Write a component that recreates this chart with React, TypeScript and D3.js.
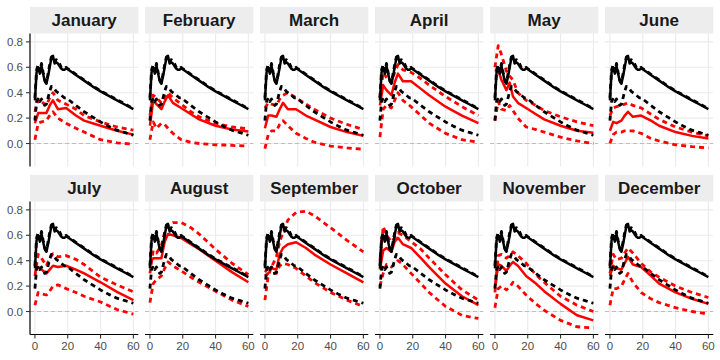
import * as d3 from "d3";
import { useEffect, useRef } from "react";

// facet labels
const months = [
  "January", "February", "March", "April", "May", "June",
  "July", "August", "September", "October", "November", "December",
];

// overall curve (same in every panel)
const tOverall = [0, 1, 2, 3, 4, 5, 6, 7, 8, 9, 10, 11, 12, 13, 14, 15, 16, 17, 18, 19, 20, 25, 30, 35, 40, 45, 50, 55, 60];
const overallMean = [0.34, 0.56, 0.6, 0.55, 0.61, 0.55, 0.49, 0.47, 0.53, 0.6, 0.67, 0.69, 0.63, 0.64, 0.63, 0.61, 0.59, 0.58, 0.58, 0.59, 0.585, 0.54, 0.495, 0.45, 0.41, 0.375, 0.34, 0.305, 0.27];
const overallUpper = [0.36, 0.58, 0.62, 0.57, 0.63, 0.56, 0.5, 0.48, 0.55, 0.62, 0.68, 0.69, 0.65, 0.66, 0.65, 0.63, 0.6, 0.59, 0.59, 0.6, 0.59, 0.545, 0.5, 0.455, 0.415, 0.38, 0.345, 0.31, 0.275];
const overallLower = [0.18, 0.33, 0.36, 0.33, 0.35, 0.32, 0.3, 0.31, 0.36, 0.41, 0.45, 0.44, 0.43, 0.41, 0.4, 0.39, 0.38, 0.37, 0.36, 0.36, 0.35, 0.3, 0.25, 0.21, 0.17, 0.135, 0.105, 0.085, 0.065];

// month curves
const tMonth = [0, 2, 4, 7, 9, 11, 14, 19, 25, 30, 40, 50, 60];
const monthMean = [
  [0.16, 0.24, 0.24, 0.24, 0.3, 0.34, 0.27, 0.28, 0.22, 0.18, 0.14, 0.1, 0.07],
  [0.14, 0.34, 0.31, 0.27, 0.33, 0.38, 0.32, 0.28, 0.23, 0.19, 0.14, 0.11, 0.095],
  [0.12, 0.22, 0.22, 0.21, 0.27, 0.32, 0.27, 0.27, 0.22, 0.19, 0.13, 0.09, 0.06],
  [0.3, 0.46, 0.42, 0.38, 0.48, 0.55, 0.49, 0.49, 0.43, 0.38, 0.29, 0.22, 0.16],
  [0.57, 0.58, 0.5, 0.42, 0.48, 0.37, 0.32, 0.28, 0.23, 0.19, 0.14, 0.1, 0.085],
  [0.1, 0.17, 0.16, 0.18, 0.22, 0.25, 0.21, 0.22, 0.18, 0.14, 0.09, 0.06, 0.04],
  [0.32, 0.35, 0.33, 0.3, 0.33, 0.36, 0.35, 0.36, 0.33, 0.3, 0.23, 0.155, 0.09],
  [0.38, 0.42, 0.42, 0.42, 0.55, 0.61, 0.6, 0.58, 0.53, 0.49, 0.4, 0.31, 0.23],
  [0.31, 0.34, 0.34, 0.33, 0.45, 0.5, 0.53, 0.545, 0.5, 0.45, 0.37, 0.3, 0.23],
  [0.33, 0.48, 0.5, 0.47, 0.55, 0.58, 0.53, 0.5, 0.42, 0.35, 0.22, 0.12, 0.05],
  [0.19, 0.37, 0.36, 0.32, 0.36, 0.39, 0.36, 0.28, 0.22, 0.16, 0.06, -0.03, -0.07],
  [0.28, 0.36, 0.34, 0.33, 0.38, 0.43, 0.37, 0.35, 0.28, 0.22, 0.15, 0.1, 0.06],
];
const monthUpper = [
  [0.25, 0.35, 0.33, 0.3, 0.36, 0.4, 0.34, 0.31, 0.27, 0.22, 0.17, 0.13, 0.105],
  [0.22, 0.38, 0.36, 0.32, 0.36, 0.4, 0.36, 0.31, 0.25, 0.21, 0.16, 0.13, 0.115],
  [0.28, 0.32, 0.31, 0.3, 0.35, 0.38, 0.4, 0.36, 0.31, 0.27, 0.2, 0.15, 0.11],
  [0.36, 0.56, 0.52, 0.48, 0.56, 0.62, 0.58, 0.56, 0.51, 0.46, 0.37, 0.29, 0.22],
  [0.6, 0.77, 0.7, 0.57, 0.53, 0.5, 0.4, 0.34, 0.3, 0.26, 0.21, 0.17, 0.14],
  [0.22, 0.28, 0.29, 0.3, 0.31, 0.32, 0.3, 0.28, 0.23, 0.19, 0.13, 0.09, 0.06],
  [0.28, 0.45, 0.42, 0.36, 0.42, 0.455, 0.43, 0.44, 0.41, 0.37, 0.27, 0.21, 0.155],
  [0.3, 0.48, 0.46, 0.52, 0.62, 0.68, 0.7, 0.7, 0.66, 0.61, 0.49, 0.38, 0.29],
  [0.09, 0.28, 0.35, 0.43, 0.55, 0.62, 0.72, 0.78, 0.79, 0.755, 0.66, 0.56, 0.47],
  [0.4, 0.67, 0.6, 0.55, 0.58, 0.62, 0.6, 0.55, 0.49, 0.42, 0.29, 0.17, 0.09],
  [0.15, 0.44, 0.45, 0.42, 0.44, 0.47, 0.44, 0.38, 0.29, 0.23, 0.12, 0.05, 0.0],
  [0.3, 0.45, 0.41, 0.42, 0.46, 0.5, 0.46, 0.38, 0.31, 0.27, 0.2, 0.15, 0.11],
];
const monthLower = [
  [0.03, 0.16, 0.17, 0.18, 0.22, 0.25, 0.2, 0.16, 0.12, 0.09, 0.03, 0.005, -0.005],
  [0.03, 0.17, 0.12, 0.16, 0.15, 0.12, 0.08, 0.03, 0.01, 0.0, -0.01, -0.015, -0.02],
  [-0.04, 0.07, 0.1, 0.1, 0.15, 0.18, 0.14, 0.08, 0.04, 0.01, -0.02, -0.035, -0.045],
  [0.05, 0.27, 0.3, 0.28, 0.34, 0.4, 0.34, 0.29, 0.22, 0.16, 0.08, 0.03, 0.01],
  [0.18, 0.33, 0.27, 0.26, 0.3, 0.26, 0.2, 0.13, 0.11, 0.09, 0.05, 0.02, 0.0],
  [0.0, 0.07, 0.09, 0.09, 0.1, 0.1, 0.1, 0.08, 0.04, 0.02, -0.01, -0.025, -0.035],
  [0.05, 0.15, 0.14, 0.13, 0.16, 0.2, 0.21, 0.18, 0.15, 0.12, 0.075, 0.015, -0.02],
  [0.07, 0.22, 0.25, 0.28, 0.34, 0.39, 0.36, 0.32, 0.27, 0.23, 0.16, 0.09, 0.04],
  [0.28, 0.3, 0.3, 0.3, 0.36, 0.38, 0.37, 0.34, 0.28, 0.23, 0.15, 0.09, 0.04],
  [0.2, 0.3, 0.37, 0.35, 0.38, 0.4, 0.37, 0.3, 0.22, 0.15, 0.04, -0.03, -0.055],
  [0.03, 0.18, 0.2, 0.17, 0.19, 0.23, 0.2, 0.13, 0.06, 0.01, -0.07, -0.12, -0.13],
  [0.05, 0.18, 0.18, 0.2, 0.25, 0.3, 0.23, 0.15, 0.1, 0.07, 0.03, 0.0, -0.02],
];

const xTicks = [0, 20, 40, 60];
const yTicks = [0, 0.2, 0.4, 0.6, 0.8];

export default function App() {
  const ref = useRef<SVGSVGElement>(null);

  useEffect(() => {
    const svg = d3.select(ref.current);
    svg.selectAll("*").remove();

    const font = "'Liberation Sans', Arial, Helvetica, sans-serif";
    const panelLeft = 30;
    const panelStep = 115;
    const panelW = 108.3;
    const panelH = 133;
    const rowTops = [33.5, 201.5];
    const stripH = 26.7;

    const x = d3.scaleLinear().domain([-3, 63]).range([0, panelW]);
    const y = d3.scaleLinear().domain([-0.181, 0.866]).range([panelH, 0]);

    const lineOverall = d3
      .line<number>()
      .x((_, i) => x(tOverall[i]))
      .y((d) => y(d));
    const lineMonth = d3
      .line<number>()
      .x((_, i) => x(tMonth[i]))
      .y((d) => y(d));

    months.forEach((m, i) => {
      const col = i % 6;
      const row = Math.floor(i / 6);
      const g = svg
        .append("g")
        .attr("transform", `translate(${panelLeft + col * panelStep},${rowTops[row]})`);

      // strip
      g.append("rect")
        .attr("x", 0)
        .attr("y", -stripH)
        .attr("width", panelW)
        .attr("height", stripH)
        .attr("fill", "#ededed");
      g.append("text")
        .attr("x", panelW / 2)
        .attr("y", -stripH / 2)
        .attr("dy", "0.36em")
        .attr("text-anchor", "middle")
        .attr("font-family", font)
        .attr("font-weight", "bold")
        .attr("font-size", 17)
        .attr("fill", "#1a1a1a")
        .text(m);

      // grid
      g.selectAll(".vg")
        .data(xTicks)
        .join("line")
        .attr("x1", (d) => x(d))
        .attr("x2", (d) => x(d))
        .attr("y1", 0)
        .attr("y2", panelH)
        .attr("stroke", "#ebebeb")
        .attr("stroke-width", 1.1);
      g.selectAll(".hg")
        .data(yTicks)
        .join("line")
        .attr("x1", 0)
        .attr("x2", panelW)
        .attr("y1", (d) => y(d))
        .attr("y2", (d) => y(d))
        .attr("stroke", "#ebebeb")
        .attr("stroke-width", 1.1);

      // zero reference
      g.append("line")
        .attr("x1", 0)
        .attr("x2", panelW)
        .attr("y1", y(0))
        .attr("y2", y(0))
        .attr("stroke", "#bebebe")
        .attr("stroke-width", 1)
        .attr("stroke-dasharray", "4,3");

      const addPath = (vals: number[], gen: any, color: string, dashed: boolean) => {
        g.append("path")
          .attr("d", gen(vals))
          .attr("fill", "none")
          .attr("stroke", color)
          .attr("stroke-width", dashed ? 2.8 : 2.5)
          .attr("stroke-linejoin", "round")
          .attr("stroke-dasharray", dashed ? "5,4" : null);
      };

      addPath(monthUpper[i], lineMonth, "#ff0000", true);
      addPath(monthLower[i], lineMonth, "#ff0000", true);
      addPath(monthMean[i], lineMonth, "#ff0000", false);
      addPath(overallLower, lineOverall, "#000000", true);
      addPath(overallMean, lineOverall, "#000000", false);
      addPath(overallUpper, lineOverall, "#000000", true);

      // y axis on first column
      if (col === 0) {
        g.append("line")
          .attr("x1", 0)
          .attr("x2", 0)
          .attr("y1", 0)
          .attr("y2", panelH)
          .attr("stroke", "#000")
          .attr("stroke-width", 1.2);
        yTicks.forEach((v) => {
          g.append("line")
            .attr("x1", -4)
            .attr("x2", 0)
            .attr("y1", y(v))
            .attr("y2", y(v))
            .attr("stroke", "#333")
            .attr("stroke-width", 1.1);
          g.append("text")
            .attr("x", -7)
            .attr("y", y(v))
            .attr("dy", "0.36em")
            .attr("text-anchor", "end")
            .attr("font-family", font)
            .attr("font-size", 11.5)
            .attr("fill", "#4d4d4d")
            .text(d3.format(".1f")(v));
        });
      }

      // x axis on bottom row
      if (row === 1) {
        g.append("line")
          .attr("x1", 0)
          .attr("x2", panelW)
          .attr("y1", panelH)
          .attr("y2", panelH)
          .attr("stroke", "#000")
          .attr("stroke-width", 1.2);
        xTicks.forEach((v) => {
          g.append("line")
            .attr("x1", x(v))
            .attr("x2", x(v))
            .attr("y1", panelH)
            .attr("y2", panelH + 4)
            .attr("stroke", "#333")
            .attr("stroke-width", 1.1);
          g.append("text")
            .attr("x", x(v))
            .attr("y", panelH + 15.5)
            .attr("text-anchor", "middle")
            .attr("font-family", font)
            .attr("font-size", 11.5)
            .attr("fill", "#4d4d4d")
            .text(String(v));
        });
      }
    });
  }, []);

  return (
    <svg
      ref={ref}
      width={720}
      height={360}
      style={{ position: "absolute", left: 0, top: 0, background: "#fff" }}
    />
  );
}
